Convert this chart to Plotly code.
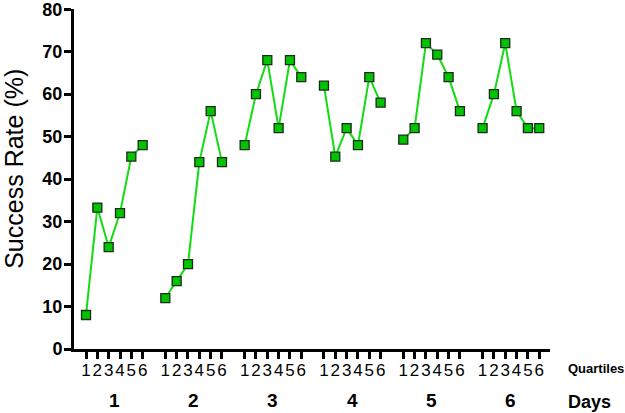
import plotly.graph_objects as go

days = ["1", "2", "3", "4", "5", "6"]
quartiles = ["1", "2", "3", "4", "5", "6"]
success = {
    "1": [8, 33.3, 24, 32, 45.3, 48],
    "2": [12, 16, 20, 44, 56, 44],
    "3": [48, 60, 68, 52, 68, 64],
    "4": [62, 45.3, 52, 48, 64, 58],
    "5": [49.3, 52, 72, 69.3, 64, 56],
    "6": [52, 60, 72, 56, 52, 52],
}
yticks = [0, 10, 20, 30, 40, 50, 60, 70, 80]

FONT = "Arial, Liberation Sans, sans-serif"
GAP = len(quartiles) + 1

xs, ys, tickvals, ticktext = [], [], [], []
for di, d in enumerate(days):
    for qi, q in enumerate(quartiles):
        pos = di * GAP + qi
        xs.append(pos)
        ys.append(success[d][qi])
        tickvals.append(pos)
        ticktext.append(q)
    xs.append(None)
    ys.append(None)

fig = go.Figure()
fig.add_trace(go.Scatter(
    x=xs, y=ys, mode="lines+markers",
    line=dict(color="#11dd11", width=2),
    marker=dict(symbol="square", size=9, color="#00c400",
                line=dict(color="#1c2a1c", width=1.3)),
    connectgaps=False, showlegend=False, cliponaxis=False,
))

for di, d in enumerate(days):
    fig.add_annotation(x=di * GAP + (len(quartiles) - 1) / 2, y=0, yref="paper",
                       text=f"<b>{d}</b>", showarrow=False, yanchor="middle",
                       yshift=-51, font=dict(family=FONT, size=19, color="black"))

fig.add_annotation(x=1.0, xref="paper", y=0, yref="paper", text="<b>Quartiles</b>",
                   showarrow=False, xanchor="left", yanchor="middle", xshift=16, yshift=-19,
                   font=dict(family=FONT, size=13, color="black"))
fig.add_annotation(x=1.0, xref="paper", y=0, yref="paper", text="<b>Days</b>",
                   showarrow=False, xanchor="left", yanchor="middle", xshift=16, yshift=-53,
                   font=dict(family=FONT, size=18, color="black"))
fig.add_annotation(x=0, xref="paper", y=0.53, yref="paper", text="Success Rate (%)",
                   showarrow=False, textangle=-90, xanchor="center", yanchor="middle",
                   xshift=-60, font=dict(family=FONT, size=25, color="black"))

fig.update_layout(
    width=625, height=413,
    margin=dict(l=74, r=75, t=9, b=64),
    plot_bgcolor="white", paper_bgcolor="white",
    font=dict(family=FONT, color="black"),
    xaxis=dict(range=[-1.06, 40.95], tickvals=tickvals, ticktext=ticktext,
               automargin=False, tickangle=0, ticklabelstandoff=-3,
               showgrid=False, zeroline=False, showline=True, linecolor="black",
               linewidth=3, ticks="outside", ticklen=7, tickwidth=3, tickcolor="black",
               tickfont=dict(family=FONT, size=17, color="black")),
    yaxis=dict(range=[0, 80.05], tickvals=yticks,
               ticktext=[f"<b>{v}</b>" for v in yticks],
               automargin=False, ticklabeloverflow="allow", ticklabelstandoff=-2,
               showgrid=False, zeroline=False, showline=True, linecolor="black",
               linewidth=3, ticks="outside", ticklen=7, tickwidth=3, tickcolor="black",
               tickfont=dict(family=FONT, size=18, color="black")),
)

fig.write_html("out.html", config={"displayModeBar": False},
               post_script="document.body.style.margin='0';")
